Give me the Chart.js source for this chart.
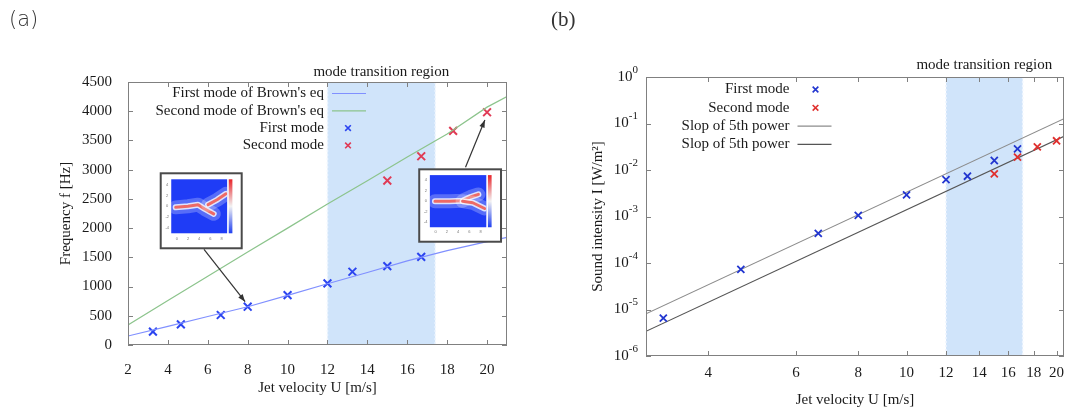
<!DOCTYPE html>
<html>
<head>
<meta charset="utf-8">
<script src="https://cdn.jsdelivr.net/npm/chart.js@4.4.1/dist/chart.umd.min.js"></script>
<style>
body { margin: 0; background: #fff; width: 1065px; height: 413px; overflow: hidden; position: relative; }
#chartA { position: absolute; left: 0; top: 0; }
#chartB { position: absolute; left: 530px; top: 0; }
.tag { position: absolute; top: 5px; font-size: 21px; line-height: 28px; color: #333; }
</style>
</head>
<body>
<canvas id="chartA" width="530" height="413"></canvas>
<canvas id="chartB" width="535" height="413"></canvas>
<div class="tag" style="left:9px;font-family:'DejaVu Sans',sans-serif;font-weight:300">(a)</div>
<div class="tag" style="left:551px;font-family:'Liberation Serif',serif">(b)</div>
<script>
// ---- panel (a): frequency vs jet velocity ----
const firstU = [3.25, 4.65, 6.65, 8, 10, 12, 13.25, 15, 16.7];
const firstFreq = [228, 353, 513, 655, 854, 1054, 1253, 1350, 1509];
const secondU = [15, 16.7, 18.3, 20];
const secondFreq = [2814, 3230, 3663, 3982];
const brownU = [2, 4, 6, 8, 10, 12, 14, 16, 18, 20, 21];
const brownFirst = [154, 320, 488, 655, 850, 1048, 1240, 1440, 1615, 1768, 1843];
const brownSecond = [342, 760, 1175, 1590, 2000, 2412, 2810, 3215, 3610, 4070, 4250];
const freqTicks = [0, 500, 1000, 1500, 2000, 2500, 3000, 3500, 4000, 4500];
const velTicksA = [2, 4, 6, 8, 10, 12, 14, 16, 18, 20];
const bandA = [12, 17.4];

// ---- panel (b): sound intensity vs jet velocity (log-log) ----
const firstI = [6.5e-6, 7.3e-5, 4.35e-4, 1.06e-3, 2.91e-3, 6.23e-3, 7.35e-3, 1.6e-2, 2.85e-2];
const secondI = [8.26e-3, 1.89e-2, 3.15e-2, 4.25e-2];
const slopeU = [3, 20.7];
const slopeUpper = [8.1e-6, 0.127];
const slopeLower = [3.4e-6, 0.053];
const velTicksB = [4, 6, 8, 10, 12, 14, 16, 18, 20];
const intensityExp = [0, -1, -2, -3, -4, -5, -6];
const bandB = [12, 17.1];

const serif = "'Liberation Serif', 'Times New Roman', serif";
const ink = '#1a1a1a';
const pts = (xs, ys) => xs.map((x, i) => ({x: x, y: ys[i]}));

function strokePath(ctx, p) {
  ctx.beginPath();
  p.forEach(([x, y], i) => i ? ctx.lineTo(x, y) : ctx.moveTo(x, y));
  ctx.stroke();
}

function arrow(ctx, x0, y0, x1, y1) {
  const ang = Math.atan2(y1 - y0, x1 - x0);
  ctx.save();
  ctx.strokeStyle = '#333'; ctx.fillStyle = '#333'; ctx.lineWidth = 1.2;
  ctx.beginPath(); ctx.moveTo(x0, y0); ctx.lineTo(x1, y1); ctx.stroke();
  ctx.beginPath(); ctx.moveTo(x1, y1);
  ctx.lineTo(x1 - 8 * Math.cos(ang - 0.35), y1 - 8 * Math.sin(ang - 0.35));
  ctx.lineTo(x1 - 8 * Math.cos(ang + 0.35), y1 - 8 * Math.sin(ang + 0.35));
  ctx.closePath(); ctx.fill();
  ctx.restore();
}

// small flow-field snapshot drawn as an inset
function drawInset(ctx, L, T, R, B, streaks) {
  const w = R - L, h = B - T;
  ctx.save();
  ctx.fillStyle = '#fff'; ctx.fillRect(L, T, w, h);
  ctx.strokeStyle = '#4a4a4a'; ctx.lineWidth = 2; ctx.strokeRect(L, T, w, h);
  const pl = L + 0.13 * w, pr = L + 0.82 * w, pt = T + 0.08 * h, pb = T + 0.8 * h;
  ctx.fillStyle = '#1f3cf6'; ctx.fillRect(pl, pt, pr - pl, pb - pt);
  ctx.save();
  ctx.beginPath(); ctx.rect(pl, pt, pr - pl, pb - pt); ctx.clip();
  ctx.lineCap = 'round'; ctx.lineJoin = 'round';
  streaks.forEach(s => {
    const p = s.map(([u, v]) => [pl + u * (pr - pl), pt + v * (pb - pt)]);
    ctx.strokeStyle = 'rgba(255,255,255,0.25)'; ctx.lineWidth = 14; strokePath(ctx, p);
    ctx.strokeStyle = 'rgba(255,255,255,0.8)'; ctx.lineWidth = 6; strokePath(ctx, p);
    ctx.strokeStyle = '#ee6a66'; ctx.lineWidth = 3; strokePath(ctx, p);
  });
  ctx.restore();
  const cx = pr + 0.02 * w, cw = 0.045 * w;
  const g = ctx.createLinearGradient(0, pt, 0, pb);
  g.addColorStop(0, '#e8242a'); g.addColorStop(0.5, '#f2f2f2'); g.addColorStop(1, '#2040f0');
  ctx.fillStyle = g; ctx.fillRect(cx, pt, cw, pb - pt);
  ctx.fillStyle = '#777'; ctx.font = '4px sans-serif'; ctx.textAlign = 'center'; ctx.textBaseline = 'middle';
  ['4', '2', '0', '-2', '-4'].forEach((t, i) => ctx.fillText(t, L + 0.08 * w, pt + (0.1 + 0.2 * i) * (pb - pt)));
  ['0', '2', '4', '6', '8'].forEach((t, i) => ctx.fillText(t, pl + (0.1 + 0.2 * i) * (pr - pl), pb + 0.07 * h));
  ctx.restore();
}

function decor(cfg) {
  return {
    id: 'decor',
    beforeDatasetsDraw(chart) {
      const {ctx, chartArea: a, scales: {x}} = chart;
      const x0 = x.getPixelForValue(cfg.band[0]), x1 = x.getPixelForValue(cfg.band[1]);
      ctx.save();
      ctx.fillStyle = '#d0e4fa';
      ctx.fillRect(x0, a.top, x1 - x0, a.bottom - a.top);
      ctx.strokeStyle = '#eef5fe'; ctx.lineWidth = 1.5; ctx.setLineDash([2, 2]);
      [x0, x1].forEach(px => { ctx.beginPath(); ctx.moveTo(px, a.top); ctx.lineTo(px, a.bottom); ctx.stroke(); });
      ctx.restore();
    },
    afterDatasetsDraw(chart) {
      const {ctx, chartArea: a, scales: {x, y}} = chart;
      if (cfg.extra) cfg.extra(chart);
      ctx.save();
      // frame with inward ticks on all sides
      ctx.strokeStyle = '#808080'; ctx.lineWidth = 1;
      ctx.strokeRect(a.left + 0.5, a.top + 0.5, a.right - a.left - 1, a.bottom - a.top - 1);
      ctx.beginPath();
      x.ticks.forEach(t => {
        const px = Math.round(x.getPixelForValue(t.value)) + 0.5;
        ctx.moveTo(px, a.bottom); ctx.lineTo(px, a.bottom - 5);
        ctx.moveTo(px, a.top); ctx.lineTo(px, a.top + 5);
      });
      y.ticks.forEach(t => {
        const py = Math.round(y.getPixelForValue(t.value)) + 0.5;
        ctx.moveTo(a.left, py); ctx.lineTo(a.left + 5, py);
        ctx.moveTo(a.right, py); ctx.lineTo(a.right - 5, py);
      });
      ctx.stroke();
      // band caption
      ctx.fillStyle = ink; ctx.font = '15px ' + serif;
      ctx.textAlign = 'center'; ctx.textBaseline = 'middle';
      const bx = (x.getPixelForValue(cfg.band[0]) + x.getPixelForValue(cfg.band[1])) / 2;
      ctx.fillText('mode transition region', bx, a.top - cfg.captionGap);
      // legend
      const lg = cfg.legend;
      chart.data.datasets.forEach((ds, i) => {
        const ly = lg.top + i * lg.gap;
        ctx.fillStyle = ink; ctx.textAlign = 'right';
        ctx.fillText(ds.label, lg.right, ly);
        ctx.strokeStyle = ds.borderColor;
        if (ds.showLine) {
          ctx.lineWidth = 1.2;
          ctx.beginPath(); ctx.moveTo(lg.right + 8, ly); ctx.lineTo(lg.right + 42, ly); ctx.stroke();
        } else {
          ctx.lineWidth = 1.6;
          Chart.helpers.drawPoint(ctx, {pointStyle: 'crossRot', radius: 4, rotation: 0, borderWidth: 1.6}, lg.right + lg.mark, ly);
        }
      });
      ctx.restore();
    },
    afterDraw(chart) {
      if (cfg.after) cfg.after(chart);
    }
  };
}

const tickFont = {family: serif, size: 15};
const titleFont = {family: serif, size: 15};
const noEdgePad = s => { s.paddingLeft = 0; s.paddingRight = 0; s.paddingTop = 0; s.paddingBottom = 0; };

// ---------------- chart (a) ----------------
new Chart(document.getElementById('chartA'), {
  type: 'scatter',
  data: {
    datasets: [
      {label: "First mode of Brown's eq", data: pts(brownU, brownFirst), showLine: true,
       borderColor: '#8090ff', borderWidth: 1.2, pointRadius: 0},
      {label: "Second mode of Brown's eq", data: pts(brownU, brownSecond), showLine: true,
       borderColor: '#8cc48c', borderWidth: 1.2, pointRadius: 0},
      {label: 'First mode', data: pts(firstU, firstFreq), pointStyle: 'crossRot',
       pointRadius: 5.5, borderColor: '#2b44f0', borderWidth: 2},
      {label: 'Second mode', data: pts(secondU, secondFreq), pointStyle: 'crossRot',
       pointRadius: 5.5, borderColor: '#e03a55', borderWidth: 2}
    ]
  },
  options: {
    responsive: false,
    animation: false,
    layout: {autoPadding: false, padding: {left: 0, right: 23, top: 82, bottom: 0}},
    plugins: {legend: {display: false}, tooltip: {enabled: false}},
    scales: {
      x: {
        type: 'linear', min: 2, max: 21,
        afterBuildTicks: s => { s.ticks = velTicksA.map(v => ({value: v})); },
        afterFit: s => { s.height = 68; noEdgePad(s); },
        grid: {display: false}, border: {display: false},
        ticks: {padding: 8, color: ink, font: tickFont, autoSkip: false, maxRotation: 0, callback: v => String(v)},
        title: {display: true, text: 'Jet velocity U [m/s]', color: ink, font: titleFont, padding: {top: 0, bottom: 16}}
      },
      y: {
        min: 0, max: 4500,
        afterBuildTicks: s => { s.ticks = freqTicks.map(v => ({value: v})); },
        afterFit: s => { s.width = 128; noEdgePad(s); },
        grid: {display: false}, border: {display: false},
        ticks: {padding: 8, color: ink, font: tickFont, callback: v => String(v)},
        title: {display: true, text: 'Frequency f [Hz]', color: ink, font: titleFont, padding: {top: 57, bottom: 0}}
      }
    }
  },
  plugins: [decor({
    band: bandA,
    captionGap: 10,
    legend: {right: 324, top: 93.5, gap: 17.3, mark: 24},
    extra(chart) {
      const {ctx, scales: {x, y}} = chart;
      drawInset(ctx, x.getPixelForValue(3.64), y.getPixelForValue(2938), x.getPixelForValue(7.7), y.getPixelForValue(1655),
        [[[0.08, 0.52], [0.3, 0.5], [0.48, 0.47], [0.6, 0.55], [0.76, 0.64]],
         [[0.66, 0.47], [0.82, 0.38], [0.98, 0.27]]]);
      drawInset(ctx, x.getPixelForValue(16.6), y.getPixelForValue(3006), x.getPixelForValue(20.7), y.getPixelForValue(1767),
        [[[0.09, 0.5], [0.35, 0.5], [0.58, 0.49], [0.72, 0.42], [0.86, 0.37]],
         [[0.58, 0.5], [0.76, 0.53], [0.97, 0.64]]]);
      arrow(ctx, x.getPixelForValue(5.81), y.getPixelForValue(1637), x.getPixelForValue(7.87), y.getPixelForValue(741));
      arrow(ctx, x.getPixelForValue(18.92), y.getPixelForValue(3040), x.getPixelForValue(19.89), y.getPixelForValue(3850));
    }
  })]
});

// ---------------- chart (b) ----------------
new Chart(document.getElementById('chartB'), {
  type: 'scatter',
  data: {
    datasets: [
      {label: 'First mode', data: pts(firstU, firstI), pointStyle: 'crossRot',
       pointRadius: 5, borderColor: '#2236d0', borderWidth: 1.8},
      {label: 'Second mode', data: pts(secondU, secondI), pointStyle: 'crossRot',
       pointRadius: 5, borderColor: '#e0302e', borderWidth: 1.8},
      {label: 'Slop of 5th power', data: pts(slopeU, slopeUpper), showLine: true,
       borderColor: '#8c8c8c', borderWidth: 1.1, pointRadius: 0},
      {label: 'Slop of 5th power', data: pts(slopeU, slopeLower), showLine: true,
       borderColor: '#555', borderWidth: 1.1, pointRadius: 0}
    ]
  },
  options: {
    responsive: false,
    animation: false,
    layout: {autoPadding: false, padding: {left: 0, right: 1, top: 77, bottom: 0}},
    plugins: {legend: {display: false}, tooltip: {enabled: false}},
    scales: {
      x: {
        type: 'logarithmic', min: 3, max: 20.7,
        afterBuildTicks: s => { s.ticks = velTicksB.map(v => ({value: v})); },
        afterFit: s => { s.height = 57; noEdgePad(s); },
        grid: {display: false}, border: {display: false},
        ticks: {display: false},
        title: {display: true, text: 'Jet velocity U [m/s]', color: ink, font: titleFont, padding: {top: 0, bottom: 4}}
      },
      y: {
        type: 'logarithmic', min: 1e-6, max: 1,
        afterBuildTicks: s => { s.ticks = intensityExp.map(e => ({value: Math.pow(10, e)})); },
        afterFit: s => { s.width = 116; noEdgePad(s); },
        grid: {display: false}, border: {display: false},
        ticks: {display: false},
        title: {display: true, text: 'Sound intensity I [W/m\u00b2]', color: ink, font: titleFont, padding: {top: 59, bottom: 0}}
      }
    }
  },
  plugins: [decor({
    band: bandB,
    captionGap: 12,
    legend: {right: 259.5, top: 89.5, gap: 18.3, mark: 26},
    after(chart) {
      const {ctx, chartArea: a, scales: {x, y}} = chart;
      ctx.save();
      ctx.fillStyle = ink; ctx.textBaseline = 'middle';
      // velocity tick labels
      ctx.font = '15px ' + serif; ctx.textAlign = 'center';
      velTicksB.forEach(v => ctx.fillText(String(v), x.getPixelForValue(v), a.bottom + 17));
      // power-of-ten tick labels with raised exponents
      ctx.textAlign = 'right';
      intensityExp.forEach(e => {
        const py = y.getPixelForValue(Math.pow(10, e));
        ctx.font = '11px ' + serif;
        const ex = String(e);
        const ew = ctx.measureText(ex).width;
        ctx.fillText(ex, a.left - 8, py - 7);
        ctx.font = '15px ' + serif;
        ctx.fillText('10', a.left - 8 - ew, py);
      });
      ctx.restore();
    }
  })]
});
</script>
</body>
</html>
